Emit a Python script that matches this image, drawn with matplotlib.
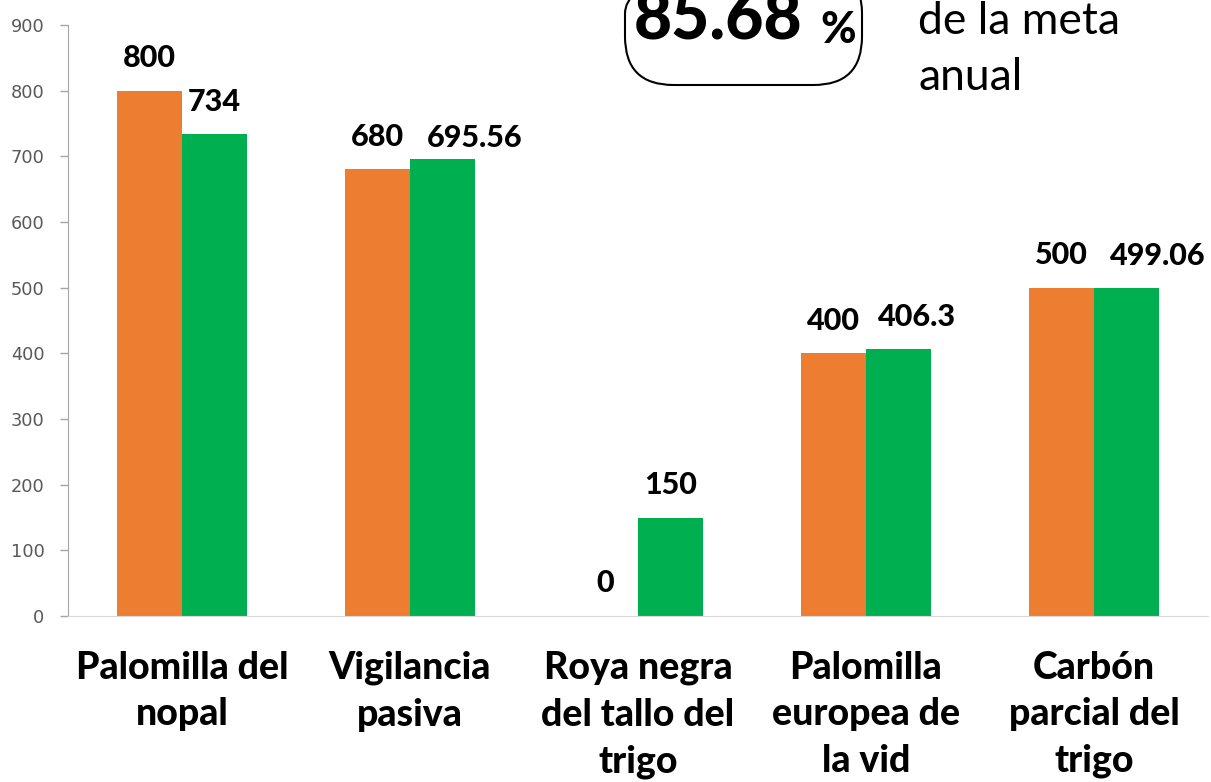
import matplotlib
matplotlib.use("Agg")
import matplotlib.pyplot as plt
import numpy as np
from matplotlib.patches import FancyBboxPatch

categories = ["Palomilla del\nnopal", "Vigilancia\npasiva", "Roya negra\ndel tallo del\ntrigo",
              "Palomilla\neuropea de\nla vid", "Carbón\nparcial del\ntrigo"]
meta = [800, 680, 0, 400, 500]
avance = [734, 695.56, 150, 406.3, 499.06]
meta_labels = ["800", "680", "0", "400", "500"]
avance_labels = ["734", "695.56", "150", "406.3", "499.06"]
yticks = [0, 100, 200, 300, 400, 500, 600, 700, 800, 900]

# label placement nudges (points), layout only
avance_dx = [0, 23, 0, 13, 22.5]
avance_dy = [23, 15, 23.5, 23, 23.5]

W, H = 1211, 782
fig = plt.figure(figsize=(W/100, H/100), dpi=100)
ax = fig.add_axes([68/W, 1-616/H, (1208-68)/W, (616-25)/H])

x = np.arange(len(categories))
bw = 0.285
ax.bar(x - bw/2, meta, bw, color="#ED7D31")
ax.bar(x + bw/2, avance, bw, color="#00B050")

ax.set_xlim(-0.5, len(categories) - 0.5)
ax.set_ylim(0, 900)
ax.set_yticks(yticks)
ax.set_yticklabels([str(t) for t in yticks], fontsize=12.8, color="#595959", family="DejaVu Sans")
ax.tick_params(axis="y", length=6, width=1, color="#A6A6A6", pad=11)
ax.set_xticks(x)
ax.set_xticklabels(categories, fontsize=27, fontweight="black", family="Lato", linespacing=1.45)
ax.tick_params(axis="x", length=0, pad=25)
for s in ["top", "right"]:
    ax.spines[s].set_visible(False)
ax.spines["left"].set_color("#A6A6A6")
ax.spines["bottom"].set_color("#D9D9D9")

lab_kw = dict(ha="center", va="center", fontsize=22, fontweight="black", family="Lato",
              textcoords="offset points")
for i in range(len(categories)):
    ax.annotate(meta_labels[i], (x[i] - bw/2, meta[i]), xytext=(0, 23.5), **lab_kw)
    ax.annotate(avance_labels[i], (x[i] + bw/2, avance[i]),
                xytext=(avance_dx[i], avance_dy[i]), **lab_kw)

# Highlight box
box = FancyBboxPatch((625/W, 1-85/H), (862-625)/W, 120/H,
                     boxstyle="round,pad=0,rounding_size=0.04",
                     transform=fig.transFigure, fill=False, ec="black", lw=1.5,
                     mutation_aspect=W/H, clip_on=False)
fig.add_artist(box)
fig.text(718/W, 1-21/H, "85.68", fontsize=47.5, fontweight="black", family="Lato",
         ha="center", va="center")
fig.text(838/W, 1-30/H, "%", fontsize=31, fontweight="black", family="Lato",
         ha="center", va="center")
fig.text(918/W, 1-22/H, "de la meta", fontsize=32, family="Lato", ha="left", va="center")
fig.text(918/W, 1-77/H, "anual", fontsize=32, family="Lato", ha="left", va="center")

fig.savefig("out.png", dpi=100)
